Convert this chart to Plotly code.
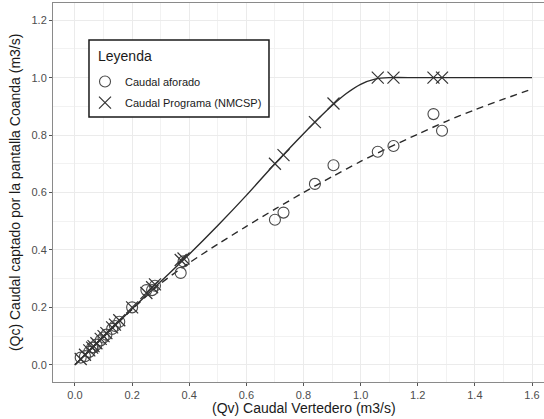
import plotly.graph_objects as go

# Measured points
qv = [0.02, 0.035, 0.05, 0.06, 0.065, 0.075, 0.09, 0.10, 0.11, 0.13, 0.14, 0.155,
      0.20, 0.25, 0.27, 0.28, 0.37, 0.38, 0.70, 0.73, 0.84, 0.905, 1.06, 1.115, 1.255, 1.285]
qc_programa = [0.02, 0.035, 0.05, 0.06, 0.065, 0.075, 0.09, 0.10, 0.11, 0.13, 0.14, 0.155,
               0.20, 0.25, 0.27, 0.28, 0.365, 0.37, 0.70, 0.73, 0.845, 0.91, 1.0, 1.0, 1.0, 1.0]
qc_aforado = [0.025, 0.03, 0.045, 0.06, 0.06, 0.07, 0.085, 0.095, 0.105, 0.125, 0.135, 0.15,
              0.20, 0.26, 0.26, 0.275, 0.32, 0.36, 0.505, 0.53, 0.63, 0.695, 0.742, 0.762, 0.873, 0.815]

# Fitted curves
curve_prog_x = [0, 0.1, 0.2, 0.3, 0.4, 0.5, 0.6, 0.7, 0.8, 0.9, 0.95, 1.0, 1.05, 1.1, 1.2, 1.4, 1.6]
curve_prog_y = [0.0, 0.097, 0.195, 0.29, 0.385, 0.485, 0.59, 0.70, 0.805, 0.903, 0.945, 0.977, 0.995, 1.0, 1.0, 1.0, 1.0]
curve_afo_x = [0, 0.1, 0.2, 0.3, 0.4, 0.5, 0.6, 0.7, 0.8, 0.9, 1.0, 1.1, 1.2, 1.3, 1.4, 1.5, 1.6]
curve_afo_y = [0.0, 0.098, 0.193, 0.283, 0.355, 0.42, 0.482, 0.542, 0.60, 0.655, 0.708, 0.757, 0.803, 0.848, 0.888, 0.925, 0.96]

x_ticks = [0.0, 0.2, 0.4, 0.6, 0.8, 1.0, 1.2, 1.4, 1.6]
y_ticks = [0.0, 0.2, 0.4, 0.6, 0.8, 1.0, 1.2]
legend_title = "Leyenda"

FONT = "Liberation Sans, Arial, Helvetica, sans-serif"

fig = go.Figure()
fig.add_trace(go.Scatter(x=curve_afo_x, y=curve_afo_y, mode="lines", showlegend=False,
                         line=dict(color="#2a2a2a", width=1.4, dash="7px,5px", shape="spline", smoothing=0.8),
                         hoverinfo="skip"))
fig.add_trace(go.Scatter(x=curve_prog_x, y=curve_prog_y, mode="lines", showlegend=False,
                         line=dict(color="#2a2a2a", width=1.4, shape="spline", smoothing=0.8),
                         hoverinfo="skip"))
fig.add_trace(go.Scatter(x=qv, y=qc_aforado, mode="markers", name="Caudal aforado", legendgroup="a",
                         marker=dict(symbol="circle-open", size=11, color="#4a4a4a", line=dict(width=1.1))))
fig.add_trace(go.Scatter(x=qv, y=qc_programa, mode="markers", name="Caudal Programa (NMCSP)", legendgroup="b",
                         marker=dict(symbol="x-thin-open", size=12, color="#333333", line=dict(width=1.2))))

axis_common = dict(
    showgrid=True, gridcolor="#ebebeb", gridwidth=1,
    zeroline=False,
    showline=True, linecolor="#8a8a8a", linewidth=1,
    ticks="outside", ticklen=3, tickcolor="#555555", tickwidth=1,
    tickfont=dict(family=FONT, size=11, color="#4d4d4d"),
)

fig.update_xaxes(range=[-0.077, 1.642], tickvals=x_ticks, ticktext=[f"{v:.1f}" for v in x_ticks],
                 mirror=True,
                 minor=dict(dtick=0.1, tick0=0, showgrid=True, gridcolor="#f2f2f2", gridwidth=0.6),
                 **axis_common)
fig.update_yaxes(range=[-0.06, 1.26], tickvals=y_ticks, ticktext=[f"{v:.1f}" for v in y_ticks],
                 mirror=False,
                 minor=dict(dtick=0.1, tick0=0, showgrid=True, gridcolor="#f2f2f2", gridwidth=0.6),
                 **axis_common)

fig.update_layout(
    width=544, height=419,
    margin=dict(l=53, r=0, t=3, b=37),
    paper_bgcolor="white", plot_bgcolor="white",
    font=dict(family=FONT, color="#1a1a1a"),
    legend=dict(
        x=0.0652, y=0.831, xanchor="left", yanchor="top",
        bgcolor="rgba(0,0,0,0)", borderwidth=0,
        font=dict(family=FONT, size=11, color="#1a1a1a"),
        itemwidth=30,
        tracegroupgap=2,
    ),
    shapes=[
        dict(type="rect", xref="paper", yref="paper", x0=0.0733, x1=0.4399, y0=0.6992, y1=0.9024,
             line=dict(color="#1a1a1a", width=1.5), fillcolor="white", layer="above"),
    ],
    annotations=[
        dict(text=legend_title, xref="paper", yref="paper",
             x=0.0876, y=0.8602, xanchor="left", yanchor="middle", showarrow=False,
             font=dict(family=FONT, size=14, color="#1a1a1a")),
        dict(text="(Qv) Caudal Vertedero (m3/s)", xref="paper", yref="paper",
             x=0.511, y=-0.0686, xanchor="center", yanchor="middle", showarrow=False,
             font=dict(family=FONT, size=14, color="#1a1a1a")),
        dict(text="(Qc) Caudal captado por la pantalla Coanda (m3/s)", xref="paper", yref="paper",
             x=-0.0774, y=0.501, xanchor="center", yanchor="middle", textangle=-90, showarrow=False,
             font=dict(family=FONT, size=14, color="#1a1a1a")),
    ],
)

fig.write_html("out.html", config={"displayModeBar": False},
               post_script="document.body.style.margin='0';document.body.style.overflow='hidden';")
